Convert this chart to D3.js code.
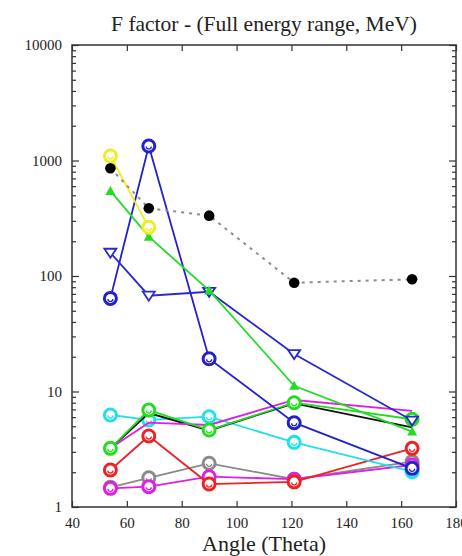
<!DOCTYPE html>
<html>
<head>
<meta charset="utf-8">
<script src="https://cdn.jsdelivr.net/npm/d3@7"></script>
<style>
  html, body { margin: 0; padding: 0; background: #fff; }
  svg { display: block; }
  text { font-family: "Liberation Serif", "DejaVu Serif", serif; fill: #222; }
</style>
</head>
<body>
<svg id="chart" width="462" height="556"></svg>
<script>
// Scattering angles (degrees)
const angles = [54, 68, 90, 121, 164];

// F factor per series, one value per angle (null = no point)
const blackDotted  = [856, 386, 333, 87.5, 93.6];
const yellow       = [1094, 264, null, null, null];
const greenTri     = [545, 219, 75, 11.2, 4.5];
const blueTri      = [159, 67.5, 73, 21.1, 5.6];
const blueCircle   = [64, 1336, 19.2, 5.37, 2.16];
const blackSolid   = [3.2, 6.5, 4.6, 7.9, 4.9];
const greenCircle  = [3.22, 6.9, 4.64, 8.0, 5.75];
const magentaHigh  = [3.22, 5.37, 5.13, 8.44, 6.8];
const cyan         = [6.26, 5.67, 6.05, 3.63, 2.02];
const red          = [2.09, 4.12, 1.58, 1.65, 3.22];
const gray         = [1.48, 1.79, 2.39, 1.74, 2.47];
const magentaLow   = [1.45, 1.5, 1.83, 1.74, 2.31];

const xTicks = [40, 60, 80, 100, 120, 140, 160, 180];
const yTicks = [1, 10, 100, 1000, 10000];

const titleText = "F factor - (Full energy range, MeV)";
const xTitle = "Angle (Theta)";

// Series styling, drawn in this order
const series = [
  { values: gray,        color: "#8a8a8a", marker: "circle" },
  { values: magentaLow,  color: "#e020e0", marker: "circle" },
  { values: red,         color: "#ee2222", marker: "circle" },
  { values: cyan,        color: "#22e0ea", marker: "circle" },
  { values: blackSolid,  color: "#111111", marker: "none" },
  { values: magentaHigh, color: "#e020e0", marker: "none" },
  { values: greenCircle, color: "#22dd22", marker: "circle" },
  { values: blueCircle,  color: "#2222cc", marker: "circle" },
  { values: blueTri,     color: "#2a2acc", marker: "triDown" },
  { values: greenTri,    color: "#22dd22", marker: "triUp" },
  { values: yellow,      color: "#eeee22", marker: "circle" },
  { values: blackDotted, color: "#000000", marker: "dot", dash: "3,5", lineColor: "#8c8c8c" }
];

const svg = d3.select("#chart");
const plot = { left: 72, right: 456, top: 45, bottom: 507 };

const x = d3.scaleLinear().domain([40, 180]).range([plot.left, plot.right]);
const y = d3.scaleLog().domain([1, 10000]).range([plot.bottom, plot.top]);

// Title
svg.append("text")
  .attr("x", 264).attr("y", 31)
  .attr("text-anchor", "middle")
  .style("font-size", "21.5px")
  .text(titleText);

// Axes with inward ticks on all four sides
const minorVals = [];
for (let d = 1; d < 10000; d *= 10) for (let k = 2; k <= 9; k++) minorVals.push(d * k);

const axisColor = "#333";
const gAxes = svg.append("g");

function styleAxis(g) {
  g.select(".domain").remove();
  g.selectAll("line").attr("stroke", axisColor).attr("stroke-width", 1.2);
}

// Bottom
gAxes.append("g").attr("transform", `translate(0,${plot.bottom})`)
  .call(d3.axisBottom(x).tickValues(xTicks).tickSize(-6).tickPadding(10).tickFormat(d3.format("d")))
  .call(styleAxis)
  .call(g => g.selectAll("text").style("font-size", "15px").attr("fill", "#222"));
// Top
gAxes.append("g").attr("transform", `translate(0,${plot.top})`)
  .call(d3.axisTop(x).tickValues(xTicks).tickSize(-6).tickFormat(""))
  .call(styleAxis);
// Left major
gAxes.append("g").attr("transform", `translate(${plot.left},0)`)
  .call(d3.axisLeft(y).tickValues(yTicks).tickSize(-7).tickPadding(10).tickFormat(d3.format("d")))
  .call(styleAxis)
  .call(g => g.selectAll("text").style("font-size", "15px").attr("fill", "#222"));
// Left minor
gAxes.append("g").attr("transform", `translate(${plot.left},0)`)
  .call(d3.axisLeft(y).tickValues(minorVals).tickSize(-4).tickFormat(""))
  .call(styleAxis);
// Right major + minor
gAxes.append("g").attr("transform", `translate(${plot.right},0)`)
  .call(d3.axisRight(y).tickValues(yTicks).tickSize(-7).tickFormat(""))
  .call(styleAxis);
gAxes.append("g").attr("transform", `translate(${plot.right},0)`)
  .call(d3.axisRight(y).tickValues(minorVals).tickSize(-4).tickFormat(""))
  .call(styleAxis);

// Frame
svg.append("rect")
  .attr("x", plot.left).attr("y", plot.top)
  .attr("width", plot.right - plot.left).attr("height", plot.bottom - plot.top)
  .attr("fill", "none").attr("stroke", axisColor).attr("stroke-width", 1.5);

// X axis title
svg.append("text")
  .attr("x", 264).attr("y", 551)
  .attr("text-anchor", "middle")
  .style("font-size", "22px")
  .text(xTitle);

// Data
const line = d3.line()
  .defined(d => d[1] != null)
  .x(d => x(d[0])).y(d => y(d[1]));

const gData = svg.append("g");
series.forEach(s => {
  const pts = angles.map((a, i) => [a, s.values[i]]);
  const g = gData.append("g");
  g.append("path")
    .datum(pts)
    .attr("d", line)
    .attr("fill", "none")
    .attr("stroke", s.lineColor || s.color)
    .attr("stroke-width", s.dash ? 2 : 1.8)
    .attr("stroke-dasharray", s.dash || null);

  const valid = pts.filter(d => d[1] != null);
  if (s.marker === "circle") {
    const m = g.selectAll("g.m").data(valid).join("g")
      .attr("transform", d => `translate(${x(d[0])},${y(d[1])})`);
    m.append("circle").attr("r", 6)
      .attr("fill", "#fff").attr("stroke", s.color).attr("stroke-width", 3);
    m.append("path").attr("d", "M-2.5,0.5 A2.5,2.5 0 0 0 2.5,0.5")
      .attr("fill", "none").attr("stroke", s.color).attr("stroke-width", 1.3);
  } else if (s.marker === "dot") {
    g.selectAll("circle").data(valid).join("circle")
      .attr("cx", d => x(d[0])).attr("cy", d => y(d[1])).attr("r", 5.3)
      .attr("fill", s.color);
  } else if (s.marker === "triDown") {
    g.selectAll("path.m").data(valid).join("path").attr("class", "m")
      .attr("transform", d => `translate(${x(d[0])},${y(d[1])})`)
      .attr("d", "M-6,-4 L6,-4 L0,5 Z")
      .attr("fill", "#fff").attr("stroke", s.color).attr("stroke-width", 1.8);
  } else if (s.marker === "triUp") {
    g.selectAll("path.m").data(valid).join("path").attr("class", "m")
      .attr("transform", d => `translate(${x(d[0])},${y(d[1])})`)
      .attr("d", "M0,-5 L5,4 L-5,4 Z")
      .attr("fill", s.color);
  }
});
</script>
</body>
</html>
